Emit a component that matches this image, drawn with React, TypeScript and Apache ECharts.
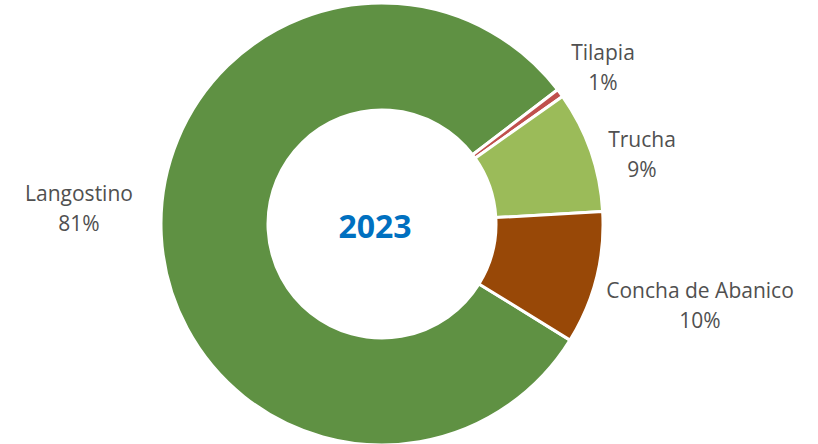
import React, { useEffect, useRef } from "react";
import * as echarts from "echarts";

const categories = ["Langostino", "Tilapia", "Trucha", "Concha de Abanico"];
const values = [80.8, 0.6, 8.9, 9.7];
const colors = ["#5F9143", "#C0504D", "#9BBB59", "#984807"];
const centerTitle = "2023";
const labelPos = [
  [79, 208],
  [603, 67],
  [642, 154],
  [700, 305],
];

export default function App() {
  const ref = useRef<HTMLDivElement>(null);
  useEffect(() => {
    if (!ref.current) return;
    const chart = echarts.init(ref.current, undefined, { renderer: "svg" });
    chart.setOption({
      animation: false,
      backgroundColor: "#ffffff",
      graphic: [
        {
          type: "text",
          x: 375,
          y: 225,
          style: {
            text: centerTitle,
            fill: "#0070C0",
            font: "bold 32px 'Open Sans'",
            textAlign: "center",
            textVerticalAlign: "middle",
          },
        },
      ],
      series: [
        {
          type: "pie",
          center: [382, 224],
          radius: [114, 221],
          startAngle: -31.7,
          clockwise: true,
          avoidLabelOverlap: false,
          itemStyle: { borderColor: "#ffffff", borderWidth: 3 },
          label: {
            show: true,
            position: "outside",
            color: "#505050",
            fontFamily: "Open Sans",
            fontSize: 21,
            lineHeight: 30,
            align: "center",
            formatter: (p: any) => `${p.name}\n${Math.round(p.percent)}%`,
          },
          labelLine: { show: false },
          labelLayout: (p: any) => ({
            x: labelPos[p.dataIndex][0],
            y: labelPos[p.dataIndex][1],
            align: "center",
            verticalAlign: "middle",
          }),
          emphasis: { disabled: true },
          data: categories.map((c, i) => ({
            name: c,
            value: values[i],
            itemStyle: { color: colors[i] },
          })),
        },
      ],
    });
    return () => chart.dispose();
  }, []);
  return (
    <div
      ref={ref}
      style={{ position: "fixed", left: 0, top: 0, width: 818, height: 444 }}
    />
  );
}
